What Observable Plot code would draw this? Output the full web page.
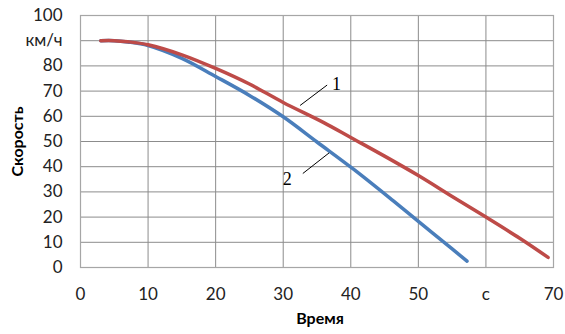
<!DOCTYPE html>
<html>
<head>
<meta charset="utf-8">
<script src="https://cdn.jsdelivr.net/npm/d3@7"></script>
<script src="https://cdn.jsdelivr.net/npm/@observablehq/plot@0.6"></script>
<style>
  html, body { margin: 0; padding: 0; background: #fff; }
</style>
</head>
<body>
<div id="chart"></div>
<script>
// Series 1 (red) — time (s) and speed (km/h)
const t1 = [3, 5, 7, 10, 15, 20, 25, 30, 36, 40, 45, 50, 55, 60, 65, 69.2];
const v1 = [90, 90, 89.6, 88.4, 84.4, 79, 72.8, 65.5, 57.5, 51.6, 44.2, 36.5, 28.2, 20, 11.6, 4];
// Series 2 (blue)
const t2 = [3, 5, 7, 10, 15, 20, 25, 30, 35, 40.4, 46.3, 50, 55, 57.2];
const v2 = [90, 90, 89.5, 88.1, 83, 75.8, 68.3, 59.8, 49.8, 39, 26.4, 18.3, 7.4, 2.5];

// Axis ticks and labels
const xTicks = [0, 10, 20, 30, 40, 50, 60, 70];
const xTickLabels = ["0", "10", "20", "30", "40", "50", "c", "70"];
const yTicks = [0, 10, 20, 30, 40, 50, 60, 70, 80, 90, 100];
const yTickLabels = ["0", "10", "20", "30", "40", "50", "60", "70", "80", "км/ч", "100"];

// Curve labels and leader lines (data coordinates)
const curveNames = ["1", "2"];
const labelT = [37.9, 30.6];
const labelV = [72.8, 35.2];
const leaderT1 = [32.5, 32.9];
const leaderV1 = [64.3, 37.3];
const leaderT2 = [36.5, 36.8];
const leaderV2 = [72.4, 45.5];

const xTitle = "Время";
const yTitle = "Скорость";

const s1 = t1.map((t, i) => ({t, v: v1[i]}));
const s2 = t2.map((t, i) => ({t, v: v2[i]}));
const labels = curveNames.map((n, i) => ({n, t: labelT[i], v: labelV[i]}));
const leaders = curveNames.map((n, i) => ({x1: leaderT1[i], y1: leaderV1[i], x2: leaderT2[i], y2: leaderV2[i]}));

const chart = Plot.plot({
  width: 565,
  height: 334,
  marginLeft: 80,
  marginRight: 12,
  marginTop: 15,
  marginBottom: 67,
  style: {fontFamily: "Lato, 'Open Sans', sans-serif", fontSize: "17px", color: "#222", background: "#fff"},
  x: {domain: [0, 70]},
  y: {domain: [0, 100]},
  marks: [
    Plot.gridX(xTicks, {stroke: "#8c8c8c", strokeOpacity: 1, strokeWidth: 1}),
    Plot.gridY(yTicks, {stroke: "#8c8c8c", strokeOpacity: 1, strokeWidth: 1}),
    Plot.frame({stroke: "#a6a6a6", strokeWidth: 1.2}),
    Plot.axisX(xTicks, {tickSize: 0, tickPadding: 20, label: null, tickFormat: (d) => xTickLabels[xTicks.indexOf(d)], fontSize: 17}),
    Plot.axisY(yTicks, {tickSize: 0, tickPadding: 18, label: null, tickFormat: (d) => yTickLabels[yTicks.indexOf(d)], fontSize: 17}),
    Plot.line(s2, {x: "t", y: "v", stroke: "#4a7ebb", strokeWidth: 3.5, curve: "catmull-rom", strokeLinecap: "round"}),
    Plot.line(s1, {x: "t", y: "v", stroke: "#be4b48", strokeWidth: 3.5, curve: "catmull-rom", strokeLinecap: "round"}),
    Plot.link(leaders, {x1: "x1", y1: "y1", x2: "x2", y2: "y2", stroke: "#000", strokeWidth: 1}),
    Plot.text(labels, {x: "t", y: "v", text: "n", fontFamily: "'Liberation Serif', 'DejaVu Serif', serif", fontSize: 18, fill: "#000"}),
    Plot.text([xTitle], {frameAnchor: "bottom", textAnchor: "middle", dy: 56, dx: 3, fontWeight: "bold", fontSize: 16, fill: "#000"}),
    Plot.text([yTitle], {frameAnchor: "left", textAnchor: "middle", rotate: -90, dx: -63, fontWeight: "bold", fontSize: 16, fill: "#000"})
  ]
});
document.getElementById("chart").appendChild(chart);
</script>
</body>
</html>
